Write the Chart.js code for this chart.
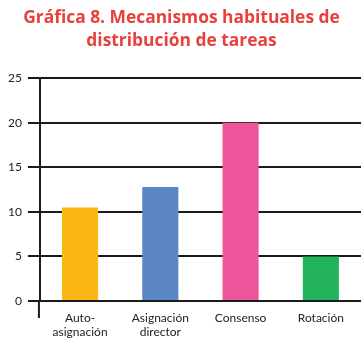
<!DOCTYPE html>
<html>
<head>
<meta charset="utf-8">
<script src="https://cdn.jsdelivr.net/npm/chart.js@4"></script>
<style>
html,body{margin:0;padding:0;background:#fff;overflow:hidden;}
#wrap{width:361px;height:339px;position:relative;}
</style>
</head>
<body>
<div id="wrap"><canvas id="c"></canvas></div>
<script>
const categories = [["Auto-","asignación"],["Asignación","director"],"Consenso","Rotación"];
const values = [10.5, 12.8, 20, 5];
const barColors = ["#fbb714","#5b87c5","#ef559a","#23b35a"];
const titleLines = ["Gráfica 8. Mecanismos habituales de","distribución de tareas"];

const axisExtend = {
  id: 'axisExtend',
  afterDraw(chart) {
    const c = chart.ctx, y = chart.scales.y, a = chart.chartArea;
    c.save();
    c.strokeStyle = '#1a1a1a'; c.lineWidth = 2;
    c.beginPath();
    c.moveTo(y.right - 1, a.bottom);
    c.lineTo(y.right - 1, a.bottom + 17);
    c.stroke();
    c.restore();
  }
};

new Chart(document.getElementById('c'), {
  type: 'bar',
  data: {
    labels: categories,
    datasets: [{ data: values, backgroundColor: barColors, borderWidth: 0,
      categoryPercentage: 1, barPercentage: 0.45 }]
  },
  options: {
    responsive: true, maintainAspectRatio: false, animation: false,
    layout: { padding: { left: 2, right: 0, top: 0, bottom: 0 } },
    plugins: {
      legend: { display: false }, tooltip: { enabled: false },
      title: { display: true, text: titleLines, color: '#e8413c',
        font: { family: 'Open Sans', size: 17.4, weight: 'bold', lineHeight: 1.3 },
        padding: { top: 7, bottom: 26 } }
    },
    scales: {
      x: {
        grid: { display: false, drawTicks: false },
        border: { display: false },
        afterFit(scale) { scale.height = 38; },
        ticks: { color: '#222', padding: 11, font: { family: 'Lato', size: 12, lineHeight: 1.1 }, maxRotation: 0, autoSkip: false }
      },
      y: {
        min: 0, max: 25,
        grid: { color: '#1a1a1a', lineWidth: 2, tickLength: 12 },
        border: { display: true, color: '#1a1a1a', width: 2 },
        ticks: { stepSize: 5, color: '#222', padding: 6, font: { family: 'Lato', size: 12 } }
      }
    }
  },
  plugins: [axisExtend]
});
</script>
</body>
</html>
